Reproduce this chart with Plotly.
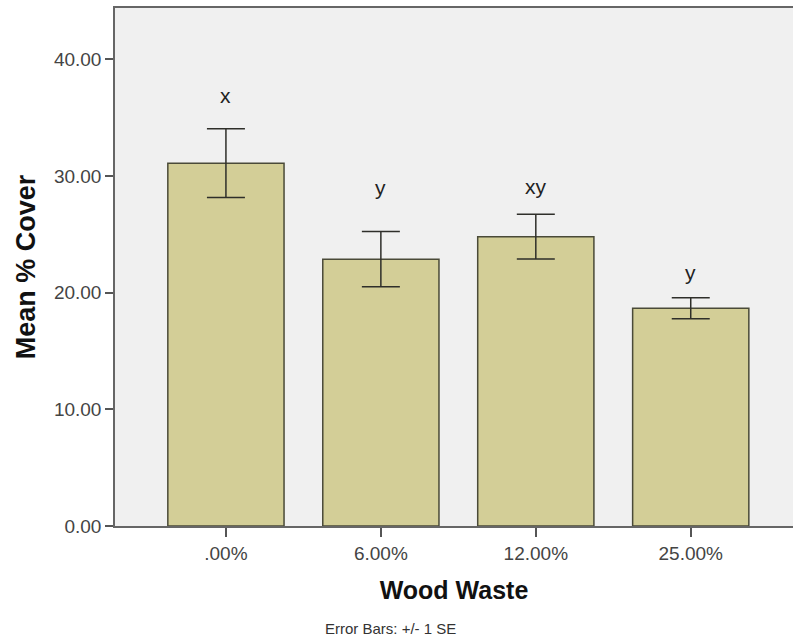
import plotly.graph_objects as go

categories = [".00%", "6.00%", "12.00%", "25.00%"]
mean_cover = [31.1, 22.87, 24.8, 18.66]
se = [2.95, 2.37, 1.92, 0.9]
letters = ["x", "y", "xy", "y"]
letter_y = [36.9, 29.0, 29.1, 21.7]
y_ticks = [0, 10, 20, 30, 40]

FONT = "Liberation Sans, Arial, sans-serif"

fig = go.Figure()
fig.add_trace(go.Bar(
    x=categories, y=mean_cover, width=0.75,
    marker=dict(color="#D3CE97", line=dict(color="#4a4a38", width=1.5)),
    error_y=dict(type="data", array=se, visible=True, color="#2f2f2a",
                 thickness=1.5, width=19),
    showlegend=False,
))

for c, t, ly in zip(categories, letters, letter_y):
    fig.add_annotation(x=c, y=ly, text=t, showarrow=False, xref="x", yref="y",
                       yanchor="middle", font=dict(family=FONT, size=21, color="#222"))

fig.add_annotation(x=0.406, y=-0.197, xref="paper", yref="paper", text="Error Bars: +/- 1 SE",
                   xanchor="center", yanchor="middle",
                   showarrow=False, font=dict(family=FONT, size=15, color="#333"))

fig.update_layout(
    width=793, height=640,
    margin=dict(l=115, r=0, t=8, b=114, autoexpand=False),
    paper_bgcolor="white", plot_bgcolor="#F0F0F0",
    font=dict(family=FONT),
)
fig.update_xaxes(
    type="category", range=[-0.716, 3.66],
    showline=True, linecolor="#666", linewidth=1.5, mirror=True,
    ticks="outside", ticklen=9, tickcolor="#555", tickwidth=1.5,
    tickfont=dict(family=FONT, size=19, color="#444"),
    showgrid=False,
    title=dict(text="<b>Wood Waste</b>", font=dict(family=FONT, size=25, color="#111"), standoff=19),
)
fig.update_yaxes(
    range=[0, 44.4], tickvals=y_ticks, tickformat=".2f",
    showline=True, linecolor="#666", linewidth=1.5,
    ticks="outside", ticklen=8, tickcolor="#555", tickwidth=1.5,
    tickfont=dict(family=FONT, size=19, color="#444"),
    showgrid=False, zeroline=False,
    title=dict(text="<b>Mean % Cover</b>", font=dict(family=FONT, size=27, color="#111"), standoff=10),
)

fig.write_html("out.html", config={"displayModeBar": False},
               post_script="document.body.style.margin='0';")
